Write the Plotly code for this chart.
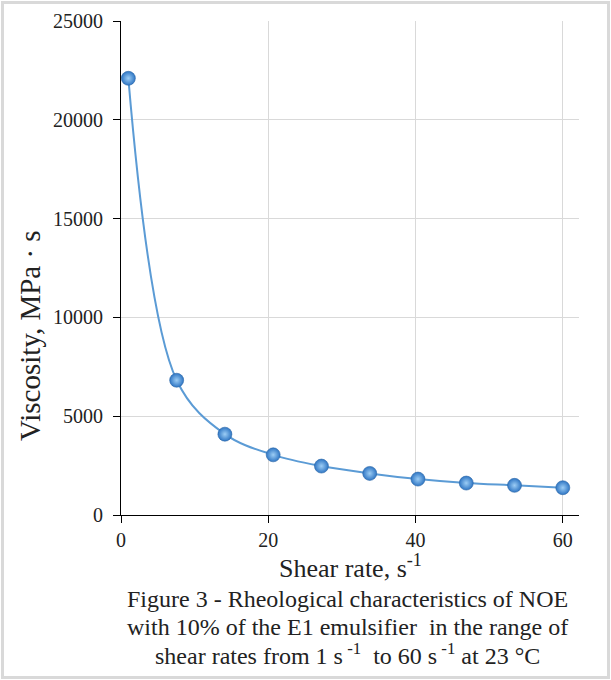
import plotly.graph_objects as go

shear_rate = [1, 7.56, 14.11, 20.67, 27.22, 33.78, 40.33, 46.89, 53.44, 60]
viscosity = [22100, 6820, 4090, 3045, 2475, 2105, 1818, 1616, 1500, 1380]
x_ticks = [0, 20, 40, 60]
y_ticks = [0, 5000, 10000, 15000, 20000, 25000]
y_tick_labels = ["0", "5000", "10000", "15000", "20000", "25000"]
caption_lines = [
    "Figure 3 - Rheological characteristics of NOE",
    "with 10% of the E1 emulsifier  in the range of",
    "shear rates from 1 s<sup> -1</sup>  to 60 s<sup> -1</sup> at 23 °C",
]

FONT = "Liberation Serif"
W, H = 611, 680
L, R, T, B = 121, 32, 21, 165
pw, ph = W - L - R, H - T - B

def px(xp):
    return (xp - L) / pw

def py(yp):
    return (H - B - yp) / ph

fig = go.Figure()
fig.add_trace(go.Scatter(
    x=shear_rate, y=viscosity, mode="lines+markers",
    line=dict(color="#5b9bd5", width=2, shape="spline", smoothing=1.0),
    marker=dict(size=14, color="#2f76c4",
                gradient=dict(type="radial", color="#9ccdf5"),
                line=dict(color="#2b66a6", width=0.6)),
    showlegend=False, cliponaxis=False,
))

fig.update_xaxes(range=[0, 62.2], tickvals=x_ticks, ticktext=[str(v) for v in x_ticks],
                 ticks="outside", ticklen=7, automargin=False,
                 tickcolor="black", showline=True, linecolor="black", linewidth=1,
                 showgrid=True, gridcolor="#d9d9d9", gridwidth=1, zeroline=False,
                 tickfont=dict(family=FONT, size=20, color="#222"))
fig.update_yaxes(range=[0, 25000], tickvals=y_ticks, ticktext=y_tick_labels,
                 ticks="outside", ticklen=7, automargin=False, ticklabelstandoff=6,
                 tickcolor="black", showline=True, linecolor="black", linewidth=1,
                 showgrid=True, gridcolor="#d9d9d9", gridwidth=1, zeroline=False,
                 tickfont=dict(family=FONT, size=20, color="#222"))

ann = []
ann.append(dict(text="Shear rate, s<sup>-1</sup>", x=px(350), y=py(566), xref="paper", yref="paper",
                showarrow=False, font=dict(family=FONT, size=26, color="#222"),
                xanchor="center", yanchor="middle"))
ann.append(dict(text="Viscosity, MPa · s", x=px(30), y=py(336), xref="paper", yref="paper",
                showarrow=False, textangle=-90, font=dict(family=FONT, size=29, color="#222"),
                xanchor="center", yanchor="middle"))
for i, line in enumerate(caption_lines):
    ann.append(dict(text=line, x=px(347), y=py(599 + 27.5 * i), xref="paper", yref="paper",
                    showarrow=False, font=dict(family=FONT, size=24, color="#222"),
                    xanchor="center", yanchor="middle"))

fig.update_layout(
    width=W, height=H, margin=dict(l=L, r=R, t=T, b=B, autoexpand=False),
    font=dict(family=FONT, color="#222"),
    paper_bgcolor="white", plot_bgcolor="white",
    annotations=ann,
    shapes=[dict(type="rect", xref="paper", yref="paper",
                 x0=px(2.5), x1=px(608.5), y0=py(677.5), y1=py(2.5),
                 line=dict(color="#d9d9d9", width=3), layer="below")],
)

fig.write_html("out.html", config={"displayModeBar": False},
               post_script="document.body.style.margin='0';document.body.style.overflow='hidden';")
